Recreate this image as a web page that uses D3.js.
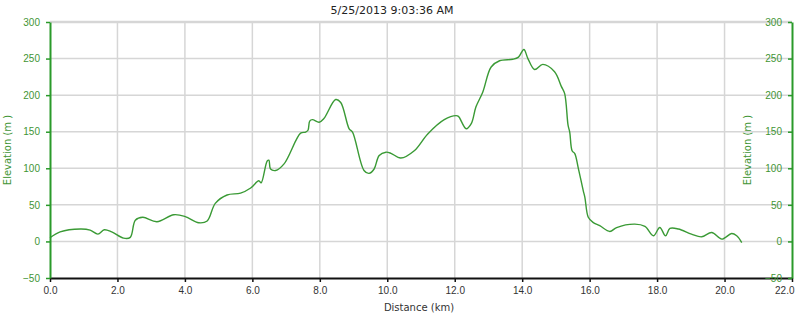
<!DOCTYPE html>
<html>
<head>
<meta charset="utf-8">
<script src="https://cdn.jsdelivr.net/npm/d3@7"></script>
<style>
  body { margin: 0; background: #fff; }
  svg { display: block; font-family: "DejaVu Sans", Verdana, sans-serif; }
</style>
</head>
<body>
<div id="chart"></div>
<script>
var title = '5/25/2013 9:03:36 AM'

// distance along the track (km) and elevation (m)
var distance = [0, 0.3, 0.9, 1.19, 1.42, 1.61, 1.83, 2.18, 2.38, 2.53, 2.75, 3.17, 3.67, 4.01, 4.41, 4.66,
  4.9, 5.25, 5.65, 5.95, 6.19, 6.26, 6.44, 6.49, 6.54, 6.69, 6.94, 7.43, 7.58, 7.65, 7.7, 7.78, 7.98, 8.12,
  8.47, 8.62, 8.87, 8.97, 9.31, 9.46, 9.61, 9.76, 9.96, 10.11, 10.4, 10.8, 11.2, 11.69, 12.04, 12.11, 12.34,
  12.49, 12.63, 12.83, 13.08, 13.33, 13.72, 13.89, 14.05, 14.17, 14.37, 14.61, 14.96, 15.16, 15.26, 15.36,
  15.41, 15.48, 15.56, 15.66, 15.81, 15.86, 15.96, 16.1, 16.3, 16.6, 16.8, 17.34, 17.64, 17.89, 18.08, 18.25,
  18.38, 18.63, 19.02, 19.32, 19.62, 19.92, 20.21, 20.36, 20.51]
var elevation = [5, 13, 17, 15.5, 10, 16, 13, 4.5, 5.5, 29, 33, 27, 36.5, 34, 25.5, 28,
  52, 63.5, 66, 73, 83, 80, 110, 111, 99, 97, 106, 148, 149.5, 152, 164.5, 166.5, 163, 168,
  194, 190, 154, 149.5, 97, 93, 99, 117.5, 122, 120.5, 114, 124, 147, 166.5, 172, 171, 154,
  161, 184, 204, 238.5, 247, 249, 252, 262.5, 250, 235, 242, 232, 212, 202, 159,
  149.5, 124, 120, 101, 69.5, 60, 33, 26, 21.5, 13.6, 19, 23.7, 20.5, 7.7, 19, 7.7,
  17.7, 17, 10, 6.3, 12.2, 3.2, 10.8, 7.7, -1.5]

var xTicks = [0, 2, 4, 6, 8, 10, 12, 14, 16, 18, 20, 22]
var yTicks = [-50, 0, 50, 100, 150, 200, 250, 300]

var data = distance.map(function(d, i){ return {km: d, elev: elevation[i]} })

var width = 800, height = 320
var margin = {left: 50, right: 8, top: 22, bottom: 42}
var innerW = width - margin.left - margin.right
var innerH = height - margin.top - margin.bottom

var green = '#2a9a2a'
var labelGreen = '#3f9535'

var svg = d3.select('#chart').append('svg')
  .attr('width', width)
  .attr('height', height)

var x = d3.scaleLinear().domain([0, 22]).range([0, innerW])
var y = d3.scaleLinear().domain([-50, 300]).range([innerH, 0])

var g = svg.append('g').attr('transform', 'translate(' + margin.left + ',' + margin.top + ')')

// grid
g.append('g').selectAll('line.vgrid')
  .data(xTicks.slice(1, -1))
  .join('line')
  .attr('x1', d => x(d)).attr('x2', d => x(d))
  .attr('y1', 0).attr('y2', innerH)
  .attr('stroke', '#d6d6d6').attr('stroke-width', 1.5)

g.append('g').selectAll('line.hgrid')
  .data(yTicks.slice(1))
  .join('line')
  .attr('x1', 0).attr('x2', innerW)
  .attr('y1', d => y(d)).attr('y2', d => y(d))
  .attr('stroke', '#d6d6d6').attr('stroke-width', d => d == 300 ? 2.5 : 1.5)

// elevation line
var line = d3.line()
  .x(d => x(d.km))
  .y(d => y(d.elev))
  .curve(d3.curveCatmullRom.alpha(0.5))

g.append('path')
  .attr('d', line(data))
  .attr('fill', 'none')
  .attr('stroke', '#3a9a35')
  .attr('stroke-width', 1.4)

// bottom axis
var xAxis = d3.axisBottom(x).tickValues(xTicks).tickFormat(d3.format('.1f')).tickSize(4).tickSizeOuter(0)
var xg = g.append('g').attr('transform', 'translate(0,' + innerH + ')').call(xAxis)
xg.select('.domain').attr('stroke', '#111').attr('stroke-width', 2)
xg.selectAll('.tick line').attr('stroke', '#111').attr('stroke-width', 1.5)
xg.selectAll('.tick text').attr('fill', '#333').attr('font-size', 10).attr('dy', '0.9em')
// last label is pushed in so it stays on the page
xg.selectAll('.tick text').filter(d => d == 22).attr('text-anchor', 'end').attr('x', 2)

// left axis
var yAxis = d3.axisLeft(y).tickValues(yTicks).tickSize(4).tickSizeOuter(0).tickPadding(6)
var yg = g.append('g').call(yAxis)
yg.select('.domain').attr('stroke', green).attr('stroke-width', 2)
yg.selectAll('.tick line').attr('stroke', green).attr('stroke-width', 1.5)
yg.selectAll('.tick text').attr('fill', labelGreen).attr('font-size', 10)

// right axis, ticks and labels sit inside the plot
var yAxisR = d3.axisLeft(y).tickValues(yTicks).tickSize(4).tickSizeOuter(0).tickPadding(6)
var ygr = g.append('g').attr('transform', 'translate(' + innerW + ',0)').call(yAxisR)
ygr.select('.domain').attr('stroke', green).attr('stroke-width', 2)
ygr.selectAll('.tick line').attr('stroke', green).attr('stroke-width', 1.5)
ygr.selectAll('.tick text').attr('fill', labelGreen).attr('font-size', 10)

// texts
svg.append('text')
  .attr('x', 392).attr('y', 14)
  .attr('text-anchor', 'middle')
  .attr('font-size', 11)
  .attr('fill', '#222')
  .text(title)

svg.append('text')
  .attr('x', margin.left + innerW / 2 - 2).attr('y', 311)
  .attr('text-anchor', 'middle')
  .attr('font-size', 10)
  .attr('fill', '#333')
  .text('Distance (km)')

svg.append('text')
  .attr('transform', 'translate(11,' + (margin.top + innerH / 2) + ') rotate(-90)')
  .attr('text-anchor', 'middle')
  .attr('font-size', 10)
  .attr('fill', labelGreen)
  .text('Elevation (m )')

svg.append('text')
  .attr('transform', 'translate(751,' + (margin.top + innerH / 2) + ') rotate(-90)')
  .attr('text-anchor', 'middle')
  .attr('font-size', 10)
  .attr('fill', labelGreen)
  .text('Elevation (m )')
</script>
</body>
</html>
